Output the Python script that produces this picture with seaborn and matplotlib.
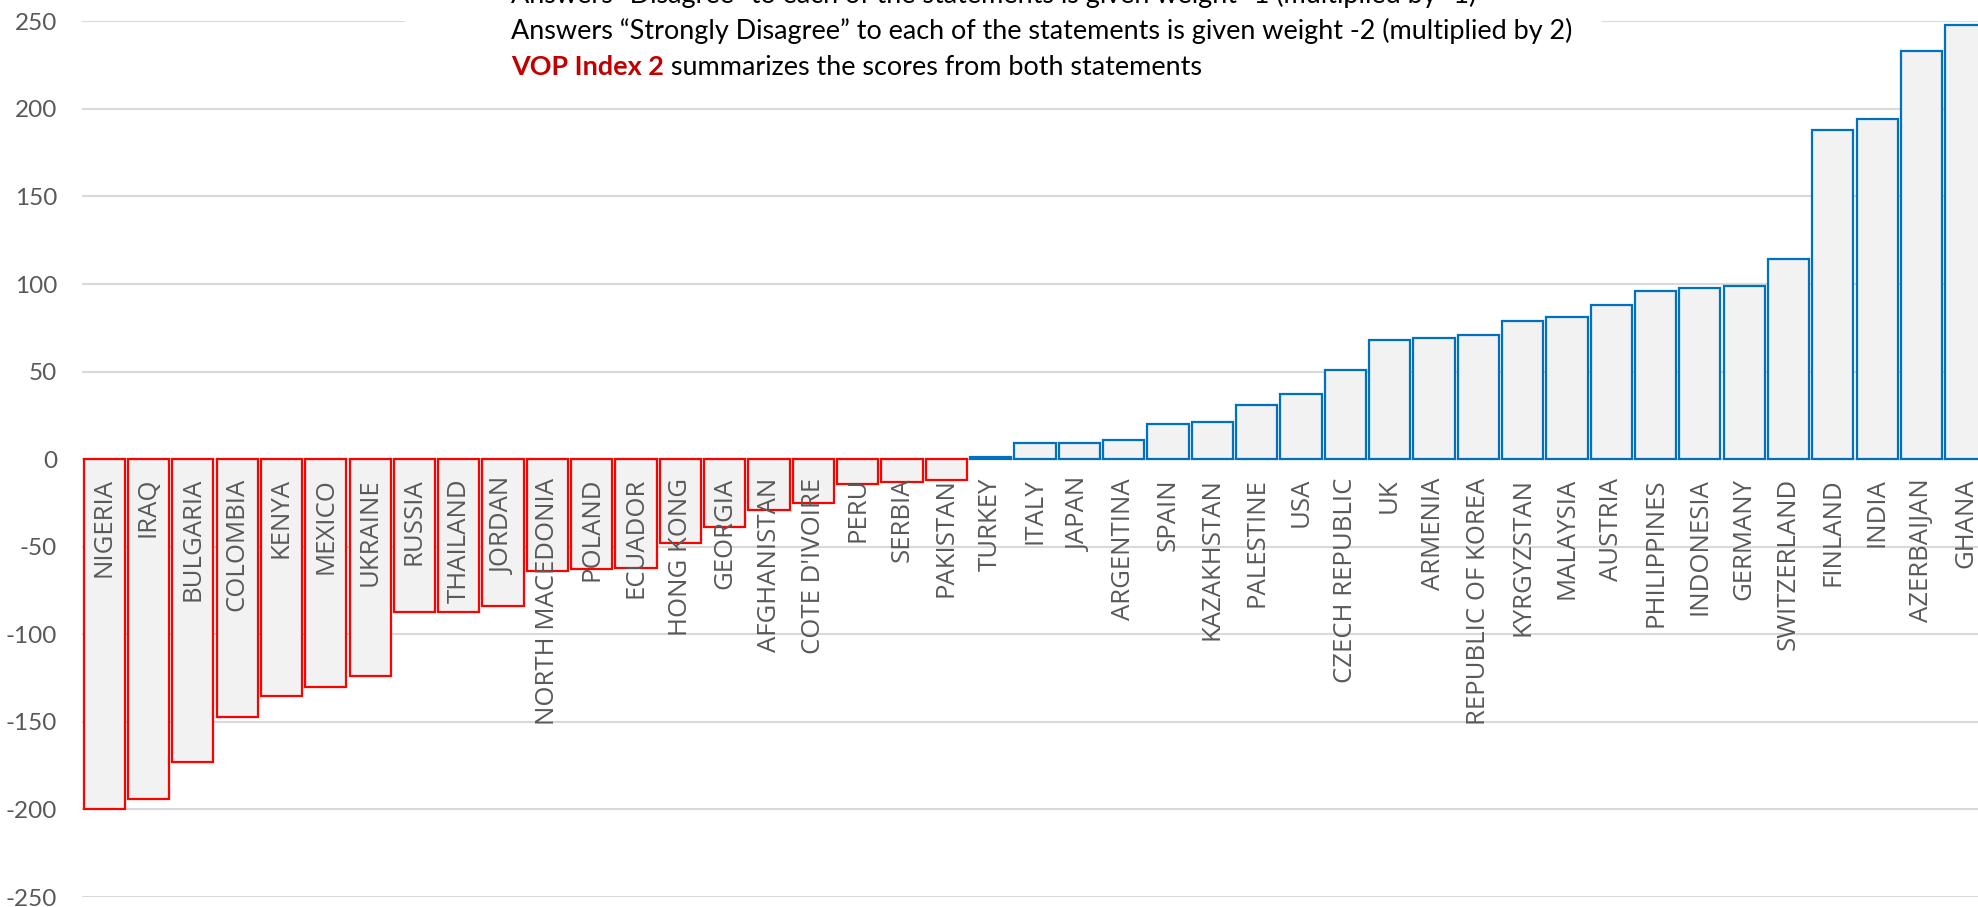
import matplotlib
matplotlib.use("Agg")
import matplotlib.pyplot as plt
import pandas as pd
import seaborn as sns
from matplotlib.patches import Rectangle

# VOP Index 2 per country, sorted ascending
countries = [
    "NIGERIA", "IRAQ", "BULGARIA", "COLOMBIA", "KENYA", "MEXICO", "UKRAINE",
    "RUSSIA", "THAILAND", "JORDAN", "NORTH MACEDONIA", "POLAND", "ECUADOR",
    "HONG KONG", "GEORGIA", "AFGHANISTAN", "COTE D'IVOIRE", "PERU", "SERBIA",
    "PAKISTAN", "TURKEY", "ITALY", "JAPAN", "ARGENTINA", "SPAIN", "KAZAKHSTAN",
    "PALESTINE", "USA", "CZECH REPUBLIC", "UK", "ARMENIA", "REPUBLIC OF KOREA",
    "KYRGYZSTAN", "MALAYSIA", "AUSTRIA", "PHILIPPINES", "INDONESIA", "GERMANY",
    "SWITZERLAND", "FINLAND", "INDIA", "AZERBAIJAN", "GHANA",
]
scores = [
    -200, -194, -173, -147, -135, -130, -124,
    -87, -87, -84, -64, -63, -62,
    -48, -39, -29, -25, -14, -13,
    -12, 1, 9, 9, 11, 20, 21,
    31, 37, 51, 68, 69, 71,
    79, 81, 88, 96, 98, 99,
    114, 188, 194, 233, 248,
]
y_ticks = [-250, -200, -150, -100, -50, 0, 50, 100, 150, 200, 250]

note_lines = [
    "Answers \u201cDisagree\u201d to each of the statements is given weight -1 (multiplied by -1)",
    "Answers \u201cStrongly Disagree\u201d to each of the statements is given weight -2 (multiplied by 2)",
]
note_bold = "VOP Index 2"
note_rest = " summarizes the scores from both statements"

df = pd.DataFrame({"country": countries, "score": scores})

sns.set_style("white")
plt.rcParams["font.family"] = ["Lato", "DejaVu Sans"]

W, H = 1978, 907
fig = plt.figure(figsize=(W / 100, H / 100), dpi=100)
# axes run past the right edge so the last bar is clipped like the source
ax = fig.add_axes([82 / W, 10 / H, 1906 / W, 875.7 / H])

sns.barplot(data=df, x="country", y="score", color="#F2F2F2", width=0.93,
            saturation=1, ax=ax, zorder=2)
for patch, val in zip(ax.patches, df["score"]):
    patch.set_facecolor("#F2F2F2")
    patch.set_edgecolor("#FF0000" if val < 0 else "#0070C0")
    patch.set_linewidth(1.6)

ax.set_xlim(-0.5, len(countries) - 0.5)
ax.set_ylim(-250, 250)
ax.set_yticks(y_ticks)
ax.set_yticklabels([str(t) for t in y_ticks])
ax.yaxis.grid(True, color="#D9D9D9", linewidth=1.5, zorder=0)
ax.set_axisbelow(True)
ax.tick_params(axis="y", length=0, pad=18, labelsize=17.5, labelcolor="#595959")
ax.set_xticks([])
ax.set_xlabel("")
ax.set_ylabel("")
sns.despine(ax=ax, left=True, bottom=True)

# country names written vertically just under the zero line
for i, name in enumerate(countries):
    ax.annotate(name, xy=(i, 0), xytext=(0, -13.5), textcoords="offset points",
                rotation=90, ha="center", va="top", fontsize=18.5,
                color="#595959", family=["Open Sans", "DejaVu Sans"], zorder=5)

# white note box covering the top gridline
fig.add_artist(Rectangle((405 / W, 1 - 92 / H), (1602 - 405) / W, 92 / H,
                         transform=fig.transFigure, facecolor="white",
                         edgecolor="none", zorder=10))
x0 = 511 / W
fs = 19.45
fig.text(x0, 1 - 3 / H, note_lines[0], fontsize=fs, color="black",
         va="baseline", ha="left", zorder=11)
fig.text(x0, 1 - 39 / H, note_lines[1], fontsize=fs, color="black",
         va="baseline", ha="left", zorder=11)
t_bold = fig.text(x0, 1 - 75 / H, note_bold, fontsize=fs, color="#C00000",
                  fontweight="bold", va="baseline", ha="left", zorder=11)
fig.canvas.draw()
bb = t_bold.get_window_extent()
fig.text(bb.x1 / W, 1 - 75 / H, note_rest, fontsize=fs, color="black",
         va="baseline", ha="left", zorder=11)

fig.savefig("out.png", dpi=100)
